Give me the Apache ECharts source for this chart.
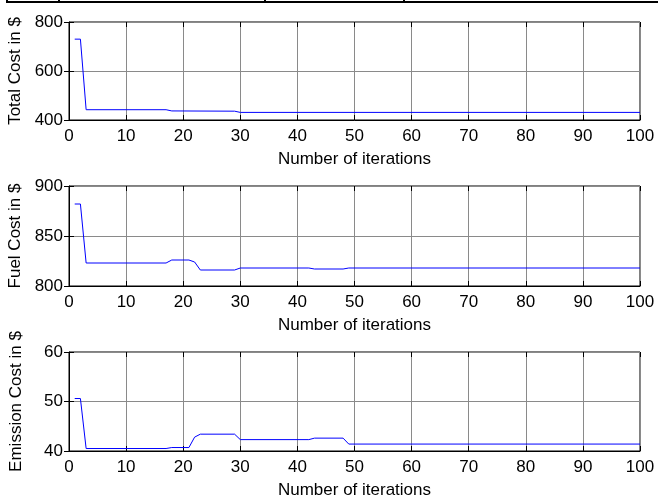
<!DOCTYPE html>
<html>
<head>
<meta charset="utf-8">
<script src="https://cdn.jsdelivr.net/npm/echarts@6/dist/echarts.min.js"></script>
<style>html,body{margin:0;padding:0;background:#fff}#c{width:658px;height:497px}</style>
</head>
<body>
<div id="c"></div>
<script>
// Data (corner points of piecewise-linear curves)
var totalIter = [1, 2, 3, 17, 18, 29, 30, 100];
var totalCost = [730, 730, 442, 442, 437, 436, 431, 431];

var fuelIter = [1, 2, 3, 17, 18, 21, 22, 23, 29, 30, 42, 43, 48, 49, 100];
var fuelCost = [882, 882, 823, 823, 826, 826, 824, 816, 816, 818, 818, 817, 817, 818, 818];

var emisIter = [1, 2, 3, 17, 18, 21, 22, 23, 29, 30, 42, 43, 48, 49, 100];
var emisCost = [50.6, 50.6, 40.5, 40.5, 40.7, 40.7, 42.8, 43.4, 43.4, 42.3, 42.3, 42.6, 42.6, 41.4, 41.4];

var xTicks = [0, 10, 20, 30, 40, 50, 60, 70, 80, 90, 100];
var yNames = ['Total Cost in $', 'Fuel Cost in $', 'Emission Cost in $'];
var yRanges = [[400, 800, 200], [800, 900, 50], [40, 60, 10]];
var xName = 'Number of iterations';

function pairs(xs, ys) { return xs.map(function (x, i) { return [x, ys[i]]; }); }
var seriesData = [pairs(totalIter, totalCost), pairs(fuelIter, fuelCost), pairs(emisIter, emisCost)];

var FONT = 'Liberation Sans, Arial, sans-serif';
var FS = 17;
var grids = [
  { left: 69, top: 22, width: 571, height: 98 },
  { left: 69, top: 186, width: 571, height: 100 },
  { left: 69, top: 352, width: 571, height: 99 }
];
var xAxes = [], yAxes = [], series = [];
grids.forEach(function (g, i) {
  g.show = true; g.borderColor = '#000'; g.borderWidth = 1; g.backgroundColor = '#fff';
  g.containLabel = false; g.outerBoundsMode = 'none';
  xAxes.push({
    type: 'value', gridIndex: i, min: 0, max: 100, interval: 10, position: 'bottom',
    name: xName, nameLocation: 'middle', nameGap: 31,
    nameTextStyle: { color: '#000', fontSize: FS, fontFamily: FONT },
    axisLine: { show: true, lineStyle: { color: '#000', width: 1 } },
    axisTick: { show: true, inside: true, length: 5, lineStyle: { color: '#000' } },
    axisLabel: { color: '#000', fontSize: FS, fontFamily: FONT, margin: 8 },
    splitLine: { show: true, lineStyle: { color: '#8a8a8a', width: 1 } }
  });
  xAxes.push({
    type: 'value', gridIndex: i, min: 0, max: 100, interval: 10, position: 'top',
    axisLine: { show: false }, axisLabel: { show: false }, splitLine: { show: false },
    axisTick: { show: true, inside: true, length: 5, lineStyle: { color: '#000' } }
  });
  var r = yRanges[i];
  yAxes.push({
    type: 'value', gridIndex: i, min: r[0], max: r[1], interval: r[2], position: 'left',
    name: yNames[i], nameLocation: 'middle', nameGap: 44,
    nameTextStyle: { color: '#000', fontSize: FS, fontFamily: FONT },
    axisLine: { show: true, lineStyle: { color: '#000', width: 1 } },
    axisTick: { show: true, inside: true, length: 5, lineStyle: { color: '#000' } },
    axisLabel: { color: '#000', fontSize: FS, fontFamily: FONT, margin: 6 },
    splitLine: { show: true, lineStyle: { color: '#8a8a8a', width: 1 } }
  });
  yAxes.push({
    type: 'value', gridIndex: i, min: r[0], max: r[1], interval: r[2], position: 'right',
    axisLine: { show: false }, axisLabel: { show: false }, splitLine: { show: false },
    axisTick: { show: true, inside: true, length: 5, lineStyle: { color: '#000' } }
  });
  series.push({
    type: 'line', xAxisIndex: 2 * i, yAxisIndex: 2 * i, data: seriesData[i],
    showSymbol: false, symbol: 'none', animation: false,
    lineStyle: { color: '#0000ff', width: 1 }
  });
});

var chart = echarts.init(document.getElementById('c'), null, { renderer: 'canvas' });
chart.setOption({
  animation: false,
  backgroundColor: '#fff',
  grid: grids,
  xAxis: xAxes,
  yAxis: yAxes,
  series: series,
  graphic: [
    { type: 'rect', shape: { x: 6, y: 1, width: 652, height: 2 }, style: { fill: '#000' } },
    { type: 'rect', shape: { x: 6, y: 0, width: 2, height: 3 }, style: { fill: '#000' } },
    { type: 'rect', shape: { x: 58, y: 0, width: 2, height: 3 }, style: { fill: '#000' } },
    { type: 'rect', shape: { x: 264, y: 0, width: 2, height: 3 }, style: { fill: '#000' } },
    { type: 'rect', shape: { x: 403, y: 0, width: 2, height: 3 }, style: { fill: '#000' } }
  ]
});
</script>
</body>
</html>
